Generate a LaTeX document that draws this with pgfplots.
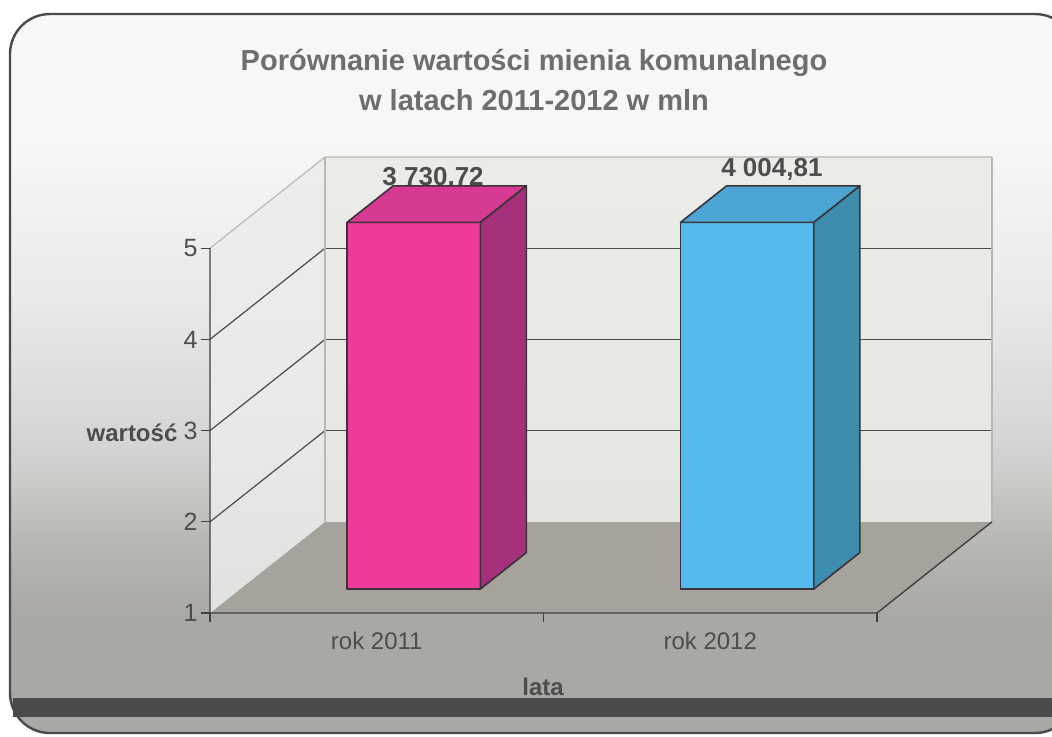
\documentclass[border=0pt]{standalone}
\usepackage{pgfplots}
\pgfplotsset{compat=1.18}
\usepackage{fontspec}
\setmainfont{Liberation Sans}

\definecolor{bgtop}{HTML}{F7F7F5}
\definecolor{bgA}{HTML}{E7EAE9}
\definecolor{bgB}{HTML}{D4D5D3}
\definecolor{bgC}{HTML}{B8B6B2}
\definecolor{bgbot}{HTML}{AAA8A4}
\definecolor{band}{HTML}{4A4A4A}
\definecolor{frame}{HTML}{4A4A4E}
\definecolor{floorc}{HTML}{A6A29C}
\definecolor{wallL}{HTML}{EAEDEB}
\definecolor{wallB}{HTML}{E9EBE6}
\definecolor{wedge}{HTML}{B8B8B8}
\definecolor{gridc}{HTML}{4A4A4A}
\definecolor{axisc}{HTML}{404040}
\definecolor{txt}{HTML}{4D4D4D}
\definecolor{titlec}{HTML}{6E6E6E}
\definecolor{edgec}{HTML}{3A3438}
\definecolor{pinkF}{HTML}{F03A9A}
\definecolor{pinkT}{HTML}{D63A92}
\definecolor{pinkS}{HTML}{A5307C}
\definecolor{blueF}{HTML}{55BBEF}
\definecolor{blueT}{HTML}{4BA6D6}
\definecolor{blueS}{HTML}{3D8EAE}

\pgfdeclareverticalshading{bgshade}{100bp}{color(0bp)=(bgbot); color(25bp)=(bgbot); color(33bp)=(bgbot); color(38bp)=(bgC); color(45bp)=(bgB); color(55bp)=(bgA); color(66bp)=(bgtop); color(75bp)=(bgtop); color(100bp)=(bgtop)}

% oblique projection: x' = x + 0.345 d, y' = v + d
\newcommand\poly[2]{\addplot[#1] table[row sep=\\, x expr=\thisrow{x}+0.345*\thisrow{d}, y expr=\thisrow{v}+\thisrow{d}]{x d v\\ #2} -- cycle;}
\newcommand\seg[2]{\addplot[#1] table[row sep=\\, x expr=\thisrow{x}+0.345*\thisrow{d}, y expr=\thisrow{v}+\thisrow{d}]{x d v\\ #2};}

\begin{document}
\begin{tikzpicture}[x=0.5pt,y=0.5pt]
\clip (0,0) rectangle (1052,736);
\path[use as bounding box] (0,0) rectangle (1052,736);
% background card
\shade[shading=bgshade, rounded corners=20] (10,3) rectangle (1075,722);
\fill[band] (13,19) rectangle (1052,38);
\draw[frame, line width=1.2pt, rounded corners=20] (10,3) rectangle (1075,722);

\begin{axis}[
  at={(105pt,61.5pt)}, anchor=south west,
  scale only axis, width=391pt, height=228pt,
  xmin=0, xmax=2.345, ymin=1, ymax=6,
  clip=false,
  axis line style={draw=none},
  ytick={1,2,3,4,5}, ytick pos=left,
  xtick={0,1,2}, xticklabels={}, xtick pos=bottom,
  extra x ticks={0.5,1.5},
  extra x tick labels={rok 2011,rok 2012},
  extra x tick style={major tick length=0pt, tick style={draw=none}},
  tick align=outside,
  major tick length=4.5pt,
  tick style={color=axisc, line width=0.6pt},
  /pgf/number format/assume math mode=true,
  yticklabel style={font=\fontsize{12.5}{14}\selectfont, text=txt, inner sep=1.5pt},
  xticklabel style={font=\fontsize{12}{14}\selectfont, text=txt, yshift=-6pt},
]
% floor
\poly{fill=floorc, draw=none}{0 0 1\\ 2 0 1\\ 2 1 1\\ 0 1 1\\}
% left wall
\poly{fill=wallL, fill opacity=0.85, draw=none}{0 0 1\\ 0 1 1\\ 0 1 5\\ 0 0 5\\}
% back wall
\poly{fill=wallB, fill opacity=0.85, draw=none}{0 1 1\\ 2 1 1\\ 2 1 5\\ 0 1 5\\}
% gridlines on the back wall
\seg{gridc, line width=0.6pt}{0 1 2\\ 2 1 2\\}
\seg{gridc, line width=0.6pt}{0 1 3\\ 2 1 3\\}
\seg{gridc, line width=0.6pt}{0 1 4\\ 2 1 4\\}
% gridlines on the left wall
\seg{gridc, line width=0.6pt}{0 0 2\\ 0 1 2\\}
\seg{gridc, line width=0.6pt}{0 0 3\\ 0 1 3\\}
\seg{gridc, line width=0.6pt}{0 0 4\\ 0 1 4\\}
% light wall edges
\seg{wedge, line width=0.6pt}{0 0 5\\ 0 1 5\\ 2 1 5\\}
\seg{wedge, line width=0.6pt}{0 1 1\\ 0 1 5\\}
\seg{wedge, line width=0.6pt}{2 1 1\\ 2 1 5\\}
% front edges
\seg{axisc, line width=0.7pt}{0 0 5\\ 0 0 1\\ 2 0 1\\ 2 1 1\\}

% value labels (behind bars)
\node[font=\bfseries\fontsize{13}{15}\selectfont, text=txt] at (axis cs:0.669,5.77) {3 730,72};
\node[font=\bfseries\fontsize{13}{15}\selectfont, text=txt] at (axis cs:1.685,5.86) {4 004,81};

% bar rok 2011
\poly{fill=pinkF, draw=edgec, line width=0.8pt, line join=round}{0.32 0.263 1\\ 0.72 0.263 1\\ 0.72 0.263 5.02\\ 0.32 0.263 5.02\\}
\poly{fill=pinkT, draw=edgec, line width=0.8pt, line join=round}{0.32 0.263 5.02\\ 0.72 0.263 5.02\\ 0.72 0.663 5.02\\ 0.32 0.663 5.02\\}
\poly{fill=pinkS, draw=edgec, line width=0.8pt, line join=round}{0.72 0.263 1\\ 0.72 0.663 1\\ 0.72 0.663 5.02\\ 0.72 0.263 5.02\\}
% bar rok 2012
\poly{fill=blueF, draw=edgec, line width=0.8pt, line join=round}{1.32 0.263 1\\ 1.72 0.263 1\\ 1.72 0.263 5.02\\ 1.32 0.263 5.02\\}
\poly{fill=blueT, draw=edgec, line width=0.8pt, line join=round}{1.32 0.263 5.02\\ 1.72 0.263 5.02\\ 1.72 0.663 5.02\\ 1.32 0.663 5.02\\}
\poly{fill=blueS, draw=edgec, line width=0.8pt, line join=round}{1.72 0.263 1\\ 1.72 0.663 1\\ 1.72 0.663 5.02\\ 1.72 0.263 5.02\\}
\end{axis}

% titles and axis names
\node[align=center, text=titlec, font=\bfseries\fontsize{14.5}{20}\selectfont] at (534,656) {Porównanie wartości mienia komunalnego\\w latach 2011-2012 w mln};
\node[text=txt, font=\bfseries\fontsize{12}{14}\selectfont] at (132,303) {wartość};
\node[text=txt, font=\bfseries\fontsize{12}{14}\selectfont] at (543,49) {lata};
\end{tikzpicture}
\end{document}
